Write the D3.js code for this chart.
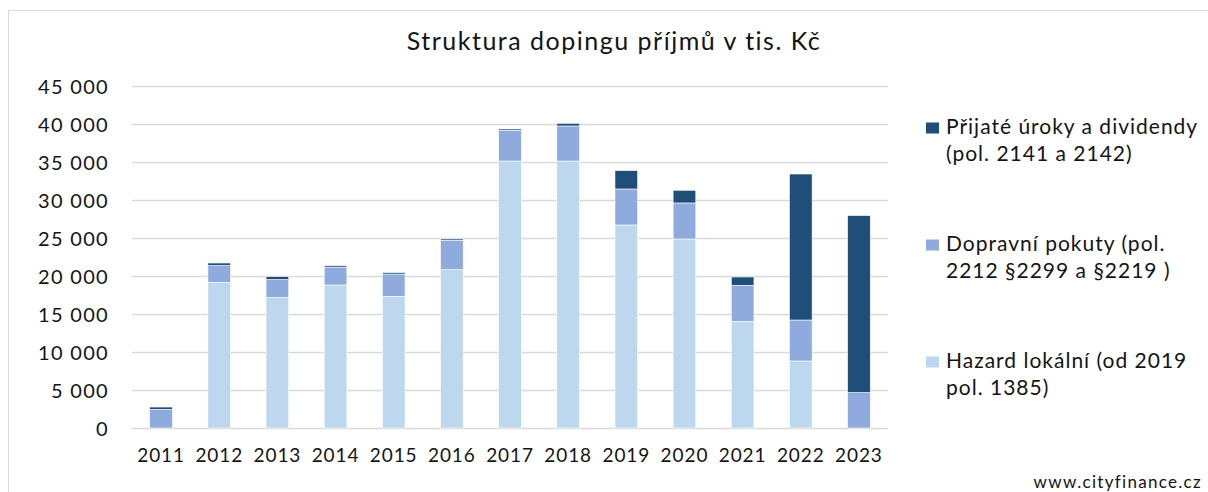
<!DOCTYPE html>
<html>
<head>
<meta charset="utf-8">
<script src="https://cdn.jsdelivr.net/npm/d3@7"></script>
<style>
  body { margin: 0; background: #fff; }
  text { font-family: Lato, "Open Sans", sans-serif; fill: #141414; }
</style>
</head>
<body>
<div id="chart"></div>
<script>
// values in tis. Kč
let years = ["2011", "2012", "2013", "2014", "2015", "2016", "2017", "2018", "2019", "2020", "2021", "2022", "2023"];
let hazard = [0, 19170, 17160, 18820, 17330, 20840, 35130, 35130, 26710, 24870, 14040, 8820, 0];
let pokuty = [2460, 2200, 2370, 2360, 2930, 3860, 4040, 4610, 4740, 4740, 4740, 5390, 4660];
let uroky = [300, 340, 390, 190, 190, 170, 170, 350, 2420, 1670, 1090, 19210, 23290];
let yTicks = [0, 5000, 10000, 15000, 20000, 25000, 30000, 35000, 40000, 45000];

let seriesKeys = ["hazard", "pokuty", "uroky"];
let seriesColors = { hazard: "#BDD7EE", pokuty: "#8FAADC", uroky: "#1F4E79" };
let legendOrder = ["uroky", "pokuty", "hazard"];
let legendLines = {
    uroky: ["Přijaté úroky a dividendy", "(pol. 2141 a 2142)"],
    pokuty: ["Dopravní pokuty (pol.", "2212 §2299 a §2219 )"],
    hazard: ["Hazard lokální (od 2019", "pol. 1385)"]
};

let width = 1208;
let height = 492;
let plot = { left: 132, right: 888, top: 86, bottom: 428 };

let svg = d3.select("#chart")
    .append("svg")
    .attr("width", width)
    .attr("height", height);

// outer frame
svg.append("rect")
    .attr("x", 8.5).attr("y", 10.5)
    .attr("width", width).attr("height", height)
    .attr("fill", "none")
    .attr("stroke", "#d9d9d9");

svg.append("text")
    .attr("x", 614).attr("y", 50)
    .attr("text-anchor", "middle")
    .style("font-size", "25px")
    .style("letter-spacing", "1.5px")
    .text("Struktura dopingu příjmů v tis. Kč");

let table = years.map((y, i) => ({ year: y, hazard: hazard[i], pokuty: pokuty[i], uroky: uroky[i] }));
let stacked = d3.stack().keys(seriesKeys)(table);

let xScale = d3.scaleBand()
    .domain(years)
    .range([plot.left, plot.right])
    .paddingInner(0.61)
    .paddingOuter(0.305);

let yScale = d3.scaleLinear()
    .domain([0, 45000])
    .range([plot.bottom, plot.top]);

// gridlines
svg.append("g")
    .selectAll("line")
    .data(yTicks)
    .join("line")
    .attr("x1", plot.left).attr("x2", plot.right)
    .attr("y1", d => Math.round(yScale(d)) + 0.5)
    .attr("y2", d => Math.round(yScale(d)) + 0.5)
    .attr("stroke", "#d9d9d9")
    .attr("stroke-width", 1.3);

let fmt = d => d3.format(",")(d).replace(/,/g, " ");

let yAxis = d3.axisLeft(yScale).tickValues(yTicks).tickFormat(fmt).tickSize(0).tickPadding(0);
let yg = svg.append("g")
    .attr("transform", "translate(109,0)")
    .call(yAxis);
yg.select(".domain").remove();
yg.selectAll("text")
    .style("font-size", "20px")
    .style("letter-spacing", "1.3px")
    .attr("dy", "0.35em");

let xAxis = d3.axisBottom(xScale).tickSize(0).tickPadding(0);
let xg = svg.append("g")
    .attr("transform", `translate(0,${plot.bottom})`)
    .call(xAxis);
xg.select(".domain").remove();
xg.selectAll("text")
    .style("font-size", "19px")
    .style("letter-spacing", "0.9px")
    .attr("y", 34).attr("dy", 0);

// bars
svg.append("g")
    .selectAll("g")
    .data(stacked)
    .join("g")
    .attr("fill", d => seriesColors[d.key])
    .selectAll("rect")
    .data(d => d)
    .join("rect")
    .attr("x", d => xScale(d.data.year))
    .attr("width", xScale.bandwidth())
    .attr("y", d => yScale(d[1]))
    .attr("height", d => yScale(d[0]) - yScale(d[1]))
    .attr("stroke", "#ffffff")
    .attr("stroke-width", 0.6);

// legend (baseline of the first line of each entry)
let legendY = { uroky: 134, pokuty: 251, hazard: 368 };
let legend = svg.append("g");
legendOrder.forEach(k => {
    let g = legend.append("g").attr("transform", `translate(926,${legendY[k]})`);
    g.append("rect")
        .attr("x", 0).attr("y", -11.5)
        .attr("width", 13).attr("height", 11)
        .attr("fill", seriesColors[k]);
    g.selectAll("text")
        .data(legendLines[k])
        .join("text")
        .attr("x", 20)
        .attr("y", (d, i) => i * 27)
        .style("font-size", "21px")
        .style("letter-spacing", "1px")
        .text(d => d);
});

svg.append("text")
    .attr("x", 1202).attr("y", 488)
    .attr("text-anchor", "end")
    .style("font-size", "17px")
    .style("letter-spacing", "1.3px")
    .text("www.cityfinance.cz");
</script>
</body>
</html>
